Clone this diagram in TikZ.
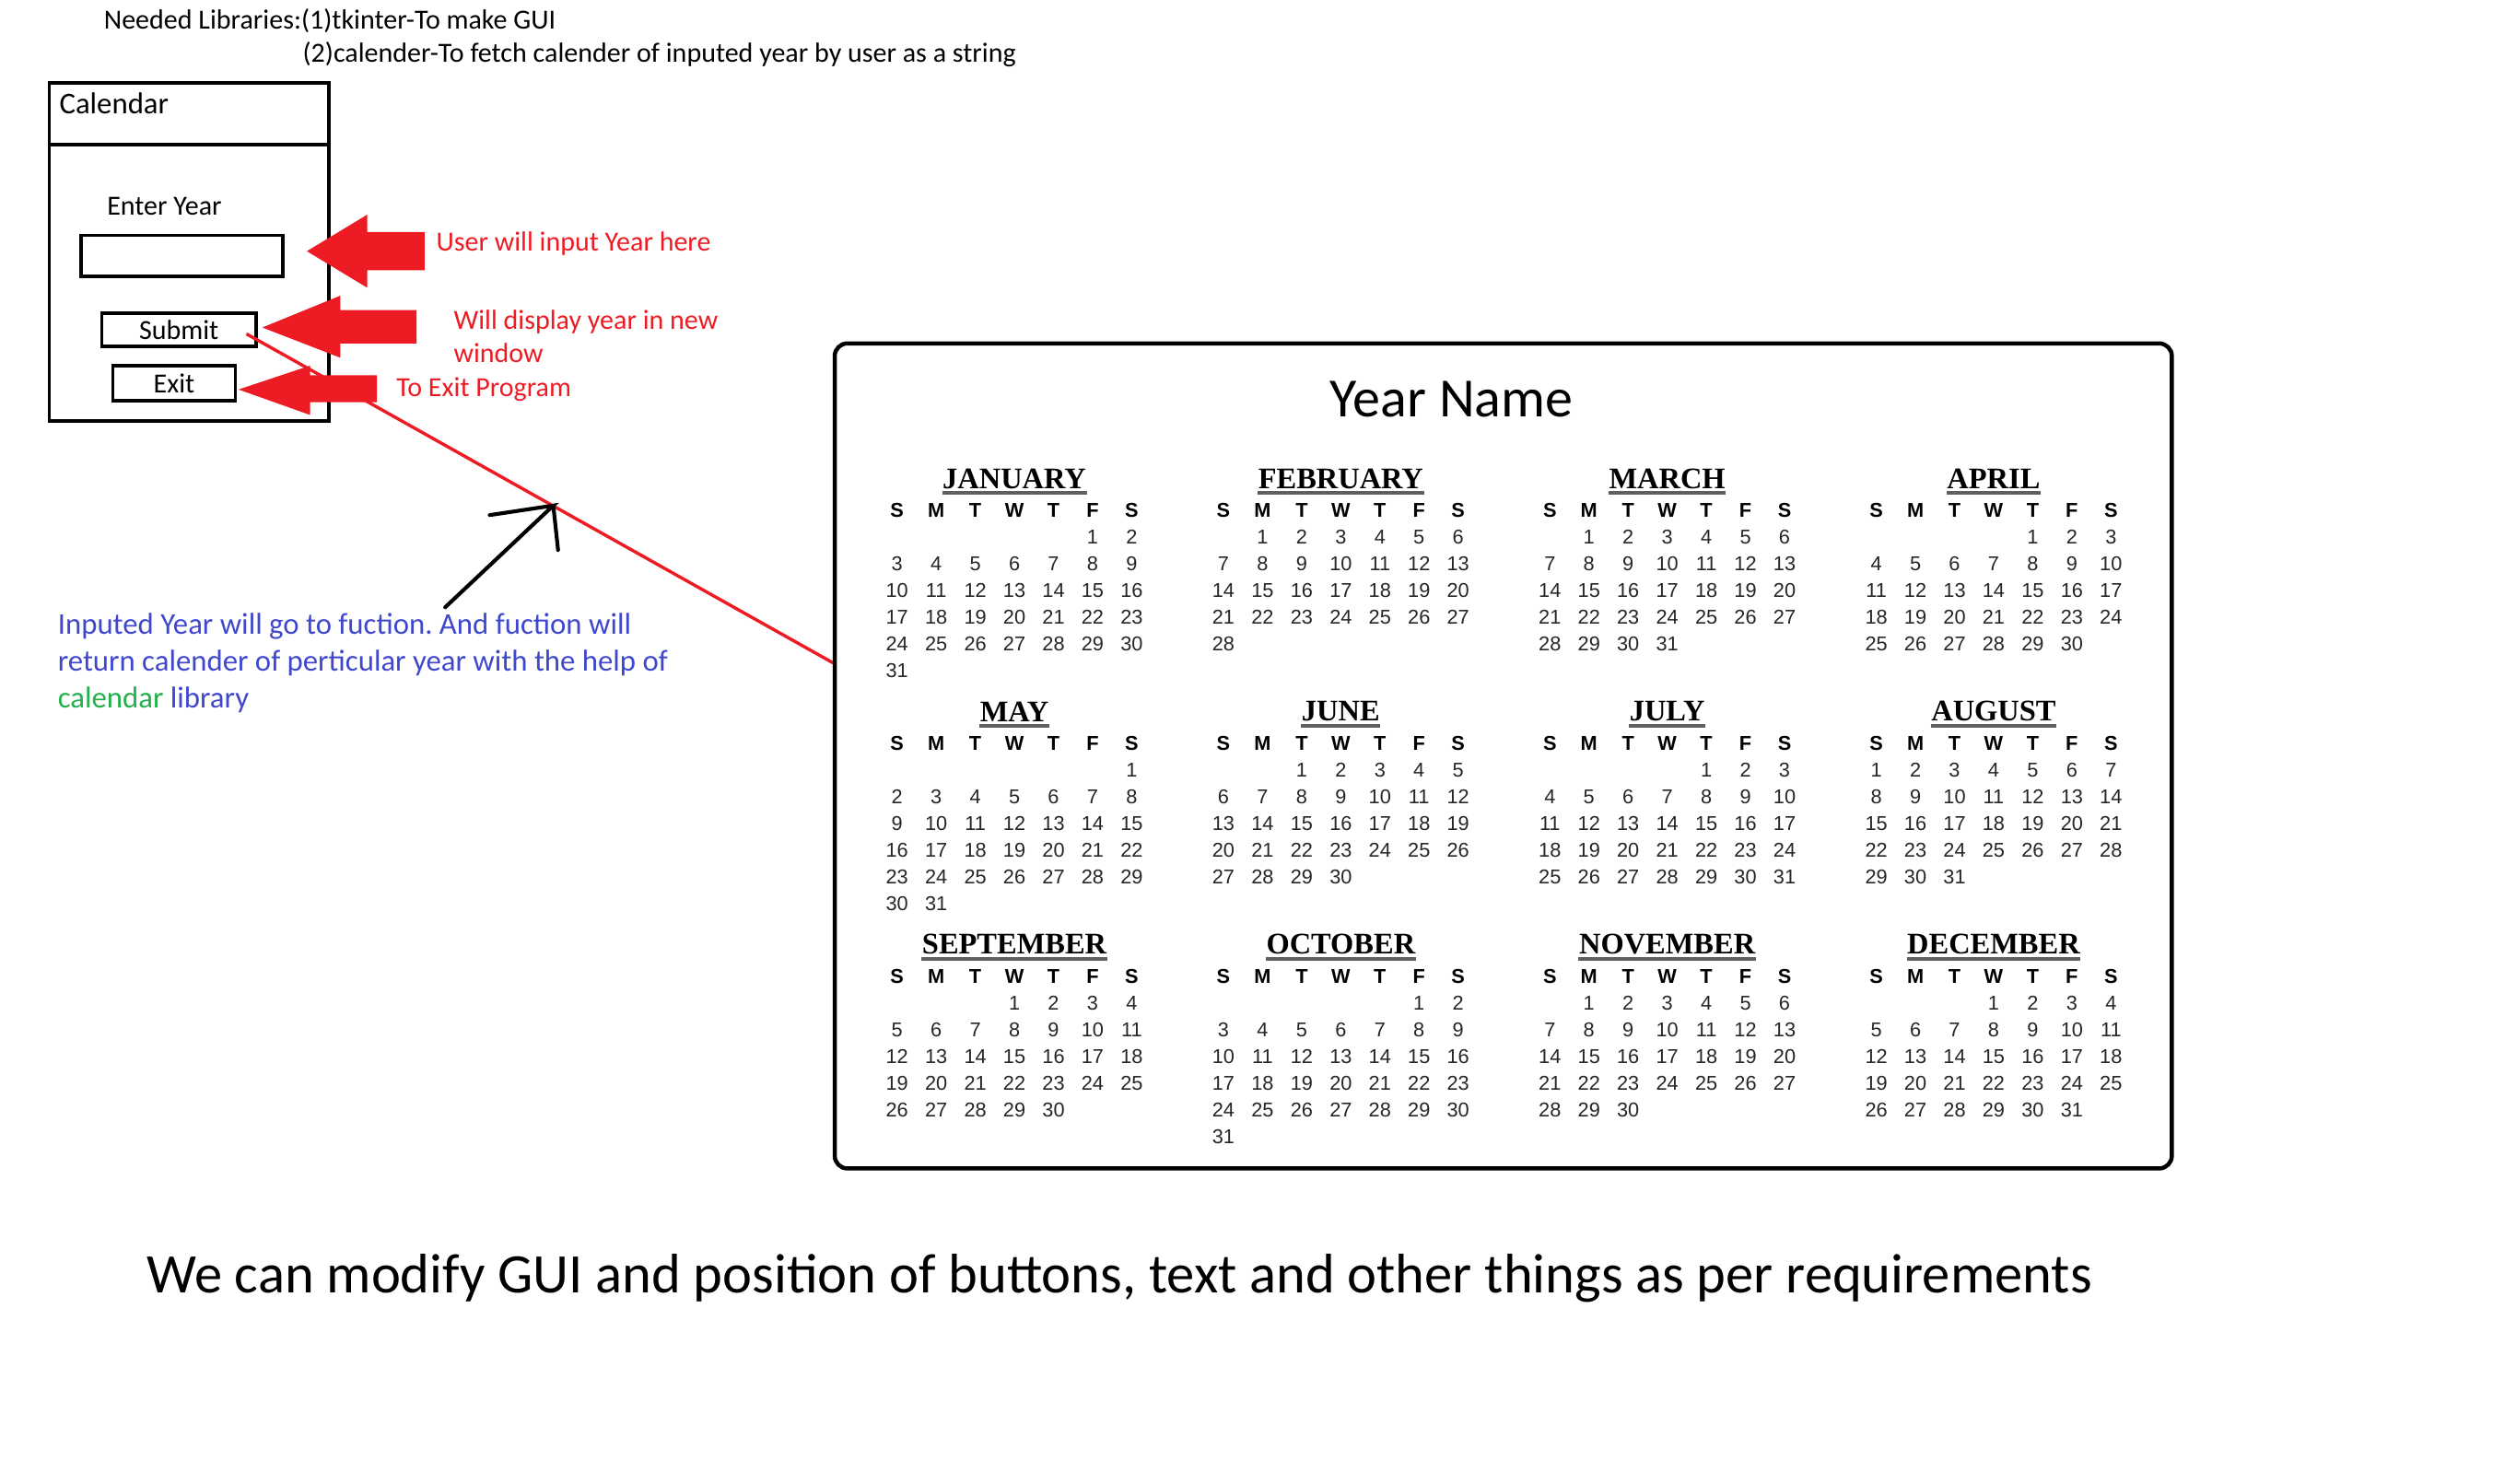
\documentclass[tikz,border=0pt]{standalone}
\usepackage{fontspec}
\setmainfont{Carlito}
\newfontfamily\calsans{Liberation Sans}
\newfontfamily\calserif{Liberation Serif}
\usetikzlibrary{positioning,calc}
\definecolor{paintred}{RGB}{237,28,36}
\definecolor{paintblue}{RGB}{63,72,204}
\definecolor{paintgreen}{RGB}{34,177,76}
\definecolor{bargray}{RGB}{95,95,95}
\frenchspacing

\tikzset{
  note/.style={anchor=west, inner sep=0pt, align=left, font=\fontsize{8.7}{10.5}\selectfont},
  guibox/.style={draw, line width=1.1pt, inner sep=0pt, font=\fontsize{8.7}{10}\selectfont},
  monthname/.style={inner sep=0pt, font=\calserif\bfseries\fontsize{9.4}{10}\selectfont},
  monthbar/.style={bargray, line width=1.2pt},
  dayhead/.style={inner sep=0pt, font=\calsans\bfseries\fontsize{6.3}{7}\selectfont},
  daynum/.style={inner sep=0pt, text=black!85, font=\calsans\fontsize{6.3}{7}\selectfont},
}

\begin{document}
\begin{tikzpicture}[x=0.5pt, y=-0.5pt]
  \useasboundingbox (0,0) rectangle (1568,933);

  % libraries needed
  \node[note] (lib1) at (65,13) {Needed Libraries:(1)tkinter-To make GUI};
  \node[note] (lib2) at (190,34) {(2)calender-To fetch calender of inputed year by user as a string};

  % input window
  \draw[line width=1.1pt] (31,52) rectangle (207,265);
  \draw[line width=1.1pt] (31,91) -- (207,91);
  \node[note, font=\fontsize{9.5}{11}\selectfont] (wintitle) at (37,65) {Calendar};
  \node[note] (enterlbl) at (67,130) {Enter Year};
  \node[guibox, minimum width=63.5pt, minimum height=13pt] (entry) at (114.5,161) {};
  \node[guibox, minimum width=48.5pt, minimum height=10.5pt] (submit) at (112.5,207.5) {Submit};
  \node[guibox, minimum width=38.5pt, minimum height=11pt] (exitbtn) at (109.5,241) {Exit};

  % red block arrows
  \fill[paintred] (193,158) -- (231,135) -- (231,146) -- (267,146) -- (267,170) -- (231,170) -- (231,181) -- cycle;
  \fill[paintred] (165,206) -- (214,186) -- (214,195) -- (262,195) -- (262,216) -- (214,216) -- (214,225) -- cycle;
  \fill[paintred] (150,245) -- (195,230) -- (195,236) -- (237,236) -- (237,253) -- (195,253) -- (195,261) -- cycle;

  \node[note, text=paintred] (note1) at (274,153) {User will input Year here};
  \node[note, text=paintred] (note2) at (285,211.5) {Will display year in new\\window};
  \node[note, text=paintred] (note3) at (249,245) {To Exit Program};

  % link from submit to the output window
  \coordinate (linestart) at (155,210);
  \coordinate (winentry) at (524,417);
  \draw[paintred, line width=1pt] (linestart) -- (winentry);

  % hand drawn arrow onto the link
  \coordinate (arrtail) at (280,382);
  \coordinate (arrtip) at (348,318);
  \draw[line width=1.2pt, line cap=round] (arrtail) -- (arrtip) -- ++(-40,6) (arrtip) -- ++(3,28);

  \node[note, text=paintblue, font=\fontsize{9.5}{11.5}\selectfont] (fnnote) at (36,417)
    {Inputed Year will go to fuction. And fuction will\\return calender of perticular year with the help of\\\textcolor{paintgreen}{calendar} library};

  % output window
  \draw[line width=1.3pt, rounded corners=4pt] (525,216) rectangle (1366,735);
  \node[inner sep=0pt, font=\fontsize{17.4}{20}\selectfont] (yearname) at (913,251) {Year Name};

  % twelve months, 4 per row
  \foreach \mname/\first/\ndays [count=\m from 0] in {JANUARY/5/31, FEBRUARY/1/28, MARCH/1/31, APRIL/4/30,
      MAY/6/31, JUNE/2/30, JULY/4/31, AUGUST/0/31, SEPTEMBER/3/30, OCTOBER/5/31, NOVEMBER/1/30, DECEMBER/3/31} {
    \pgfmathsetmacro\cx{638+mod(\m,4)*205.3}
    \pgfmathsetmacro\ty{301+floor(\m/4)*146.5}
    \node[monthname] (m\m) at (\cx,\ty) {\mname};
    \draw[monthbar] ([yshift=-4.5pt]m\m.west) -- ([yshift=-4.5pt]m\m.east);
    \foreach \dname [count=\c from 0] in {S,M,T,W,T,F,S}
      \node[dayhead] (h\m-\c) at ({\cx+(\c-3)*24.6},\ty+20) {\dname};
    \foreach \d in {1,...,\ndays} {
      \pgfmathtruncatemacro\idx{\d-1+\first}
      \pgfmathtruncatemacro\col{mod(\idx,7)}
      \pgfmathtruncatemacro\row{div(\idx,7)}
      \node[daynum] (d\m-\d) at ({\cx+(\col-3)*24.6},{\ty+37+\row*16.8}) {\d};
    }
  }

  % footer
  \node[note, font=\fontsize{17.55}{20}\selectfont] (footer) at (92,804)
    {We can modify GUI and position of buttons, text and other things as per requirements};
\end{tikzpicture}
\end{document}
